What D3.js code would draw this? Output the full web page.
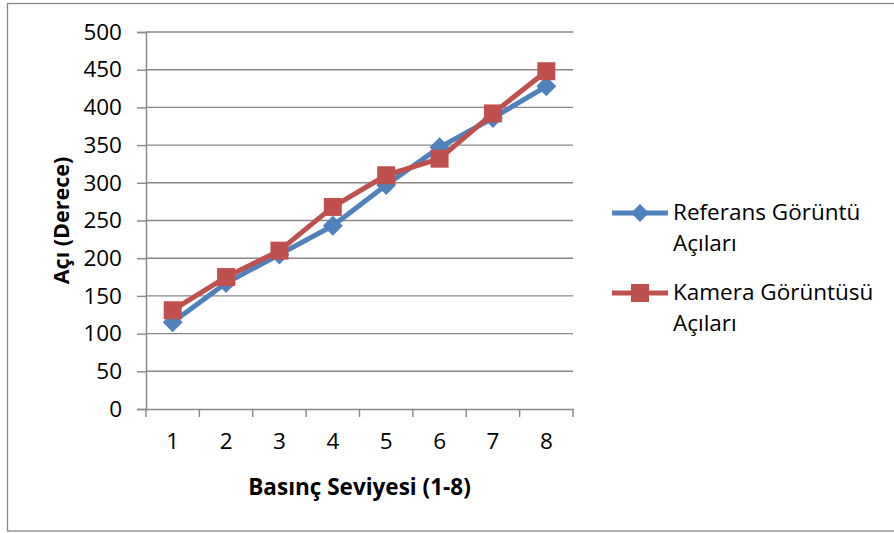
<!DOCTYPE html>
<meta charset="utf-8">
<title>Açı grafiği</title>
<script src="https://d3js.org/d3.v7.min.js"></script>
<style>
    body { margin: 0; background: #fff; }
    text { font-family: "Open Sans", sans-serif; fill: #000; }
</style>
<body>
<div id="chart"></div>
<script>

    // data
    var categories = ["1", "2", "3", "4", "5", "6", "7", "8"];
    var referans = [115, 167, 205, 243, 297, 347, 386, 428];
    var kamera = [131, 175, 210, 268, 310, 332, 392, 448];
    var yTicks = [0, 50, 100, 150, 200, 250, 300, 350, 400, 450, 500];
    var seriesNames = [["Referans Görüntü", "Açıları"], ["Kamera Görüntüsü", "Açıları"]];

    var W = 894, H = 533;
    var plot = { left: 146, right: 573, top: 32, bottom: 409 };
    var gridColor = "#878787";
    var colors = ["#4F81BD", "#C0504D"];

    var svg = d3.select("#chart").append("svg")
        .attr("width", W)
        .attr("height", H);

    // outer frame
    svg.append("rect")
        .attr("x", 7.5).attr("y", 3.5)
        .attr("width", 900).attr("height", 527.5)
        .attr("fill", "none")
        .attr("stroke", gridColor)
        .attr("stroke-width", 1.3);

    var x = d3.scaleBand()
        .domain(categories)
        .range([plot.left, plot.right])
        .padding(0);

    var y = d3.scaleLinear()
        .domain([0, 500])
        .range([plot.bottom, plot.top]);

    // gridlines
    svg.append("g")
        .selectAll("line")
        .data(yTicks.filter(function (d) { return d > 0; }))
        .enter()
        .append("line")
        .attr("x1", plot.left).attr("x2", plot.right)
        .attr("y1", function (d) { return y(d); })
        .attr("y2", function (d) { return y(d); })
        .attr("stroke", gridColor)
        .attr("stroke-width", 1.4);

    // Y axis
    var yAxis = svg.append("g")
        .attr("transform", "translate(" + plot.left + ",0)")
        .call(d3.axisLeft(y).tickValues(yTicks).tickSize(9).tickPadding(15));
    yAxis.select(".domain").attr("stroke", gridColor).attr("stroke-width", 1.4);
    yAxis.selectAll(".tick line").attr("stroke", gridColor).attr("stroke-width", 1.4);
    yAxis.selectAll(".tick text")
        .style("font-family", "'Open Sans', sans-serif")
        .style("font-size", "22.5px")
        .attr("fill", "#000");

    // X axis, ticks on the category boundaries
    var xAxis = svg.append("g")
        .attr("transform", "translate(0," + plot.bottom + ")")
        .call(d3.axisBottom(x).tickSize(0).tickPadding(24));
    xAxis.select(".domain").attr("stroke", gridColor).attr("stroke-width", 1.4);
    xAxis.selectAll(".tick text")
        .style("font-family", "'Open Sans', sans-serif")
        .style("font-size", "22.5px")
        .attr("fill", "#000");
    xAxis.selectAll(".bound")
        .data(d3.range(categories.length + 1))
        .enter()
        .append("line")
        .attr("class", "bound")
        .attr("x1", function (i) { return plot.left + i * x.bandwidth(); })
        .attr("x2", function (i) { return plot.left + i * x.bandwidth(); })
        .attr("y1", 0).attr("y2", 8)
        .attr("stroke", gridColor)
        .attr("stroke-width", 1.4);

    // axis titles
    svg.append("text")
        .attr("transform", "translate(69," + ((plot.top + plot.bottom) / 2) + ") rotate(-90)")
        .attr("text-anchor", "middle")
        .style("font-size", "21.5px")
        .style("font-weight", "bold")
        .text("Açı (Derece)");

    svg.append("text")
        .attr("x", (plot.left + plot.right) / 2)
        .attr("y", 495)
        .attr("text-anchor", "middle")
        .style("font-size", "22.5px")
        .style("font-weight", "bold")
        .text("Basınç Seviyesi (1-8)");

    var cx = function (d, i) { return x(categories[i]) + x.bandwidth() / 2; };

    var diamond = function (r) { return "M0," + (-r) + "L" + r + ",0L0," + r + "L" + (-r) + ",0Z"; };
    var square = function (r) { return "M" + (-r) + "," + (-r) + "h" + (2 * r) + "v" + (2 * r) + "h" + (-2 * r) + "Z"; };
    var markers = [diamond(10), square(9)];

    var line = d3.line()
        .x(cx)
        .y(function (d) { return y(d); });

    [referans, kamera].forEach(function (values, s) {
        var g = svg.append("g");
        g.append("path")
            .datum(values)
            .attr("d", line)
            .attr("fill", "none")
            .attr("stroke", colors[s])
            .attr("stroke-width", 5)
            .attr("stroke-linejoin", "round");
        g.selectAll("path.mark")
            .data(values)
            .enter()
            .append("path")
            .attr("class", "mark")
            .attr("d", markers[s])
            .attr("transform", function (d, i) { return "translate(" + cx(d, i) + "," + y(d) + ")"; })
            .attr("fill", colors[s]);
    });

    // legend
    var legendY = [213, 293];
    seriesNames.forEach(function (name, s) {
        var g = svg.append("g").attr("transform", "translate(0," + legendY[s] + ")");
        g.append("line")
            .attr("x1", 612).attr("x2", 668)
            .attr("stroke", colors[s])
            .attr("stroke-width", 5);
        g.append("path")
            .attr("d", s === 0 ? diamond(9) : square(9))
            .attr("transform", "translate(640,0)")
            .attr("fill", colors[s]);
        name.forEach(function (t, k) {
            g.append("text")
                .attr("x", 673)
                .attr("y", 7 + k * 31)
                .style("font-size", "22.5px")
                .text(t);
        });
    });

</script>
</body>
